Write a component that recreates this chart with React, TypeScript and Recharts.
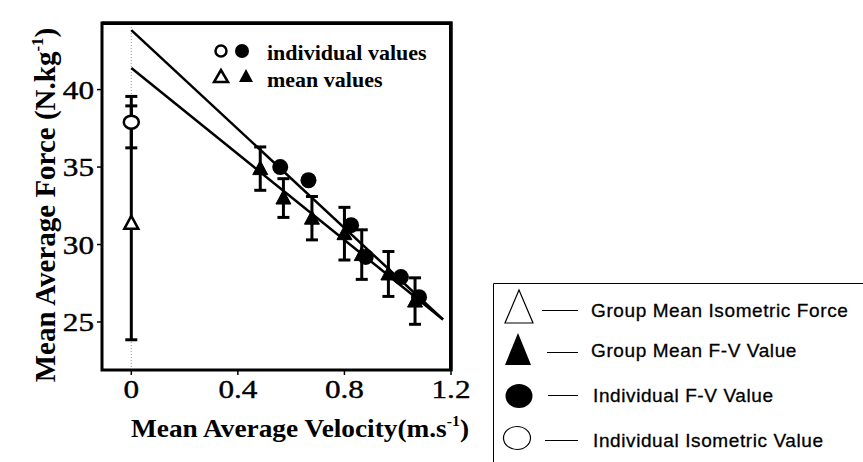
import React from 'react';
import {
  ScatterChart,
  Scatter,
  XAxis,
  YAxis,
  ErrorBar,
  ReferenceLine,
  ReferenceArea,
  Legend,
  Label,
} from 'recharts';

// ---------- data ----------
const isoVelocity = [0];
const isoIndividualForce = [37.9];
const isoIndividualErr = [1.66];
const isoMeanForce = [31.4];
const isoMeanErr = [7.55];

const meanFVVelocity = [0.484, 0.571, 0.678, 0.8, 0.865, 0.965, 1.065];
const meanFVForce = [34.9, 33.0, 31.7, 30.7, 29.35, 28.1, 26.35];
const meanFVErr = [1.4, 1.25, 1.4, 1.7, 1.6, 1.45, 1.5];

const indFVVelocity = [0.559, 0.665, 0.825, 0.88, 1.012, 1.08];
const indFVForce = [35.0, 34.15, 31.25, 29.2, 27.9, 26.6];

const fitIndividualVelocity = [0, 1.17];
const fitIndividualForce = [43.84, 25.16];
const fitMeanVelocity = [0, 1.17];
const fitMeanForce = [41.39, 25.16];

const xDomain = [-0.11, 1.2];
const yDomain = [21.9, 44.3];
const xTicks = [0, 0.4, 0.8, 1.2];
const yTicks = [25, 30, 35, 40];

const xTitle = 'Mean Average Velocity(m.s';
const yTitle = 'Mean Average Force (N.kg';
const unitSup = '-1';

const keyLabels = ['individual values', 'mean values'];
const legendLabels = [
  'Group Mean Isometric Force',
  'Group Mean F-V Value',
  'Individual F-V Value',
  'Individual Isometric Value',
];

// ---------- layout ----------
const CHART_W = 863;
const CHART_H = 462;
const MARGIN = { top: 23, right: 412, bottom: 0, left: 0 };
const Y_AXIS_W = 102;
const X_AXIS_H = 92;
const PLOT = {
  left: MARGIN.left + Y_AXIS_W,
  top: MARGIN.top,
  right: CHART_W - MARGIN.right,
  bottom: CHART_H - MARGIN.bottom - X_AXIS_H,
};

// ---------- built tables ----------
const isoIndividual = isoVelocity.map((x, i) => ({ x, y: isoIndividualForce[i], err: isoIndividualErr[i] }));
const isoMean = isoVelocity.map((x, i) => ({ x, y: isoMeanForce[i], err: isoMeanErr[i] }));
const meanFV = meanFVVelocity.map((x, i) => ({ x, y: meanFVForce[i], err: meanFVErr[i] }));
const indFV = indFVVelocity.map((x, i) => ({ x, y: indFVForce[i] }));
const fitIndividual = fitIndividualVelocity.map((x, i) => ({ x, y: fitIndividualForce[i] }));
const fitMean = fitMeanVelocity.map((x, i) => ({ x, y: fitMeanForce[i] }));

const SERIF = '"Liberation Serif", "DejaVu Serif", serif';
const SANS = '"Liberation Sans", Arial, sans-serif';

// ---------- shapes ----------
const FilledTriangle = (p: any) => {
  const { cx, cy } = p;
  return (
    <polygon
      points={`${cx},${cy - 8} ${cx - 7.5},${cy + 6} ${cx + 7.5},${cy + 6}`}
      fill="#000"
      stroke="#000"
      strokeWidth={1}
    />
  );
};
const OpenTriangle = (p: any) => {
  const { cx, cy } = p;
  return (
    <polygon
      points={`${cx},${cy - 7} ${cx - 7},${cy + 6} ${cx + 7},${cy + 6}`}
      fill="#fff"
      stroke="#000"
      strokeWidth={2.5}
    />
  );
};
const FilledCircle = (p: any) => <circle cx={p.cx} cy={p.cy} r={8} fill="#000" />;
const OpenCircle = (p: any) => (
  <ellipse cx={p.cx} cy={p.cy} rx={7.5} ry={6.5} fill="#fff" stroke="#000" strokeWidth={2.5} />
);
const NoShape = () => <g />;

// ---------- ticks (slightly widened serif digits) ----------
const XTick = (p: any) => {
  const { x, y, payload } = p;
  return (
    <text
      transform={`translate(${x},${y}) scale(1.2,1)`}
      x={0}
      y={0}
      dy="0.71em"
      textAnchor="middle"
      fontFamily={SERIF}
      fontSize={26}
      fill="#000"
      stroke="#000"
      strokeWidth={0.4}
    >
      {String(payload.value)}
    </text>
  );
};
const YTick = (p: any) => {
  const { x, y, payload } = p;
  return (
    <text
      transform={`translate(${x},${y}) scale(1.2,1)`}
      x={0}
      y={0}
      dy="0.355em"
      textAnchor="end"
      fontFamily={SERIF}
      fontSize={26}
      fill="#000"
      stroke="#000"
      strokeWidth={0.4}
    >
      {String(payload.value)}
    </text>
  );
};

// ---------- legend box (right) ----------
const LegendBox = () => (
  <svg width={370} height={179} style={{ display: 'block' }}>
    <line x1={0.5} y1={0.5} x2={370} y2={0.5} stroke="#000" strokeWidth={1} />
    <line x1={0.5} y1={0.5} x2={0.5} y2={179} stroke="#000" strokeWidth={1} />
    {/* row 1 */}
    <polygon points="26,7 12,40 40,40" fill="#fff" stroke="#000" strokeWidth={1.2} />
    <line x1={49} y1={27.5} x2={85} y2={27.5} stroke="#000" strokeWidth={1} />
    {/* row 2 */}
    <polygon points="25,50 12,82 38,82" fill="#000" />
    <line x1={54} y1={69.5} x2={85} y2={69.5} stroke="#000" strokeWidth={1} />
    {/* row 3 */}
    <ellipse cx={26} cy={113} rx={13.5} ry={12} fill="#000" />
    <line x1={55} y1={112.5} x2={85} y2={112.5} stroke="#000" strokeWidth={1} />
    {/* row 4 */}
    <ellipse cx={24} cy={155} rx={13.5} ry={11.5} fill="#fff" stroke="#000" strokeWidth={1.2} />
    <line x1={52} y1={157.5} x2={85} y2={157.5} stroke="#000" strokeWidth={1} />
    {[34, 74, 119, 164].map((y, i) => (
      <text
        key={i}
        x={i < 2 ? 98 : 100}
        y={y}
        fontFamily={SANS}
        fontSize={19}
        letterSpacing={0.6}
        fill="#000"
        stroke="#000"
        strokeWidth={0.3}
      >
        {legendLabels[i]}
      </text>
    ))}
  </svg>
);

const XTitle = () => (
  <text
    x={300}
    y={437}
    textAnchor="middle"
    fontFamily={SERIF}
    fontWeight="bold"
    fontSize={26}
    fill="#000"
    textLength={338}
    lengthAdjust="spacingAndGlyphs"
  >
    {xTitle}
    <tspan dy={-11} fontSize={15}>{unitSup}</tspan>
    <tspan dy={11}>)</tspan>
  </text>
);

const YTitle = () => (
  <text
    x={0}
    y={0}
    transform="translate(55,205) rotate(-90)"
    textAnchor="middle"
    fontFamily={SERIF}
    fontWeight="bold"
    fontSize={29}
    fill="#000"
  >
    {yTitle}
    <tspan dy={-12} fontSize={17}>{unitSup}</tspan>
    <tspan dy={12}>)</tspan>
  </text>
);

export default function App() {
  return (
    <div style={{ position: 'absolute', left: 0, top: 0, width: CHART_W, height: CHART_H, background: '#fff' }}>
      <ScatterChart width={CHART_W} height={CHART_H} margin={MARGIN} style={{ background: '#fff' }}>
        <XAxis
          type="number"
          dataKey="x"
          domain={xDomain}
          ticks={xTicks}
          allowDataOverflow
          height={X_AXIS_H}
          tickSize={5}
          tickMargin={5}
          stroke="#000"
          axisLine={{ stroke: '#000', strokeWidth: 2 }}
          tickLine={{ stroke: '#000', strokeWidth: 1.5 }}
          tick={<XTick />}
          label={<Label content={() => <XTitle />} />}
        />
        <YAxis
          type="number"
          dataKey="y"
          domain={yDomain}
          ticks={yTicks}
          allowDataOverflow
          width={Y_AXIS_W}
          tickSize={5}
          tickMargin={3}
          stroke="#000"
          axisLine={{ stroke: '#000', strokeWidth: 2 }}
          tickLine={{ stroke: '#000', strokeWidth: 1.5 }}
          tick={<YTick />}
          label={<Label content={() => <YTitle />} />}
        />
        <ReferenceArea
          x1={xDomain[0]}
          x2={xDomain[1]}
          y1={yDomain[0]}
          y2={yDomain[1]}
          ifOverflow="visible"
          fill="#fff"
          fillOpacity={0}
          stroke="#000"
          strokeWidth={3}
        />
        <ReferenceLine x={isoVelocity[0]} stroke="#9a9a9a" strokeWidth={1} strokeDasharray="1 2" />
        <Scatter
          name="fitIndividual"
          data={fitIndividual}
          line={{ stroke: '#000', strokeWidth: 2.5 }}
          shape={NoShape}
          isAnimationActive={false}
          legendType="none"
        />
        <Scatter
          name="fitMean"
          data={fitMean}
          line={{ stroke: '#000', strokeWidth: 2.5 }}
          shape={NoShape}
          isAnimationActive={false}
          legendType="none"
        />
        <Scatter name="indFV" data={indFV} shape={FilledCircle} isAnimationActive={false} legendType="none" />
        <Scatter name="meanFV" data={meanFV} shape={FilledTriangle} isAnimationActive={false} legendType="none">
          <ErrorBar dataKey="err" direction="y" width={6} strokeWidth={3} stroke="#000" isAnimationActive={false} />
        </Scatter>
        <Scatter name="isoMean" data={isoMean} shape={OpenTriangle} isAnimationActive={false} legendType="none">
          <ErrorBar dataKey="err" direction="y" width={6} strokeWidth={3} stroke="#000" isAnimationActive={false} />
        </Scatter>
        <Scatter name="isoIndividual" data={isoIndividual} shape={OpenCircle} isAnimationActive={false} legendType="none">
          <ErrorBar dataKey="err" direction="y" width={6} strokeWidth={3} stroke="#000" isAnimationActive={false} />
        </Scatter>
        <Legend
          layout="vertical"
          align="center"
          verticalAlign="middle"
          wrapperStyle={{ position: 'absolute', left: 493, top: 283, width: 370, height: 179, margin: 0, padding: 0 }}
          content={() => <LegendBox />}
        />
      </ScatterChart>
      {/* plot frame: top and right edges */}
      <div
        style={{
          position: 'absolute',
          left: PLOT.left,
          top: PLOT.top - 1,
          width: PLOT.right - PLOT.left + 1,
          height: PLOT.bottom - PLOT.top + 2,
          borderTop: '3px solid #000',
          borderRight: '3px solid #000',
          boxSizing: 'border-box',
          pointerEvents: 'none',
          zIndex: 5,
        }}
      />
      {/* in-plot key */}
      <svg
        width={CHART_W}
        height={CHART_H}
        style={{ position: 'absolute', left: 0, top: 0, pointerEvents: 'none', zIndex: 6 }}
      >
        <polyline
          points={`${PLOT.left},${PLOT.top} ${PLOT.right},${PLOT.top} ${PLOT.right},${PLOT.bottom + 1}`}
          fill="none"
          stroke="#000"
          strokeWidth={3}
        />
        <ellipse cx={221} cy={51} rx={5.5} ry={5.5} fill="#fff" stroke="#000" strokeWidth={2.5} />
        <circle cx={242} cy={51} r={7} fill="#000" />
        <polygon points="221,70 214,82 228,82" fill="#fff" stroke="#000" strokeWidth={2.5} />
        <polygon points="246,69 239,82 253,82" fill="#000" />
        <text x={267} y={60} fontFamily={SERIF} fontWeight="bold" fontSize={22} fill="#000">
          {keyLabels[0]}
        </text>
        <text x={267} y={87} fontFamily={SERIF} fontWeight="bold" fontSize={22} fill="#000">
          {keyLabels[1]}
        </text>
      </svg>
    </div>
  );
}
